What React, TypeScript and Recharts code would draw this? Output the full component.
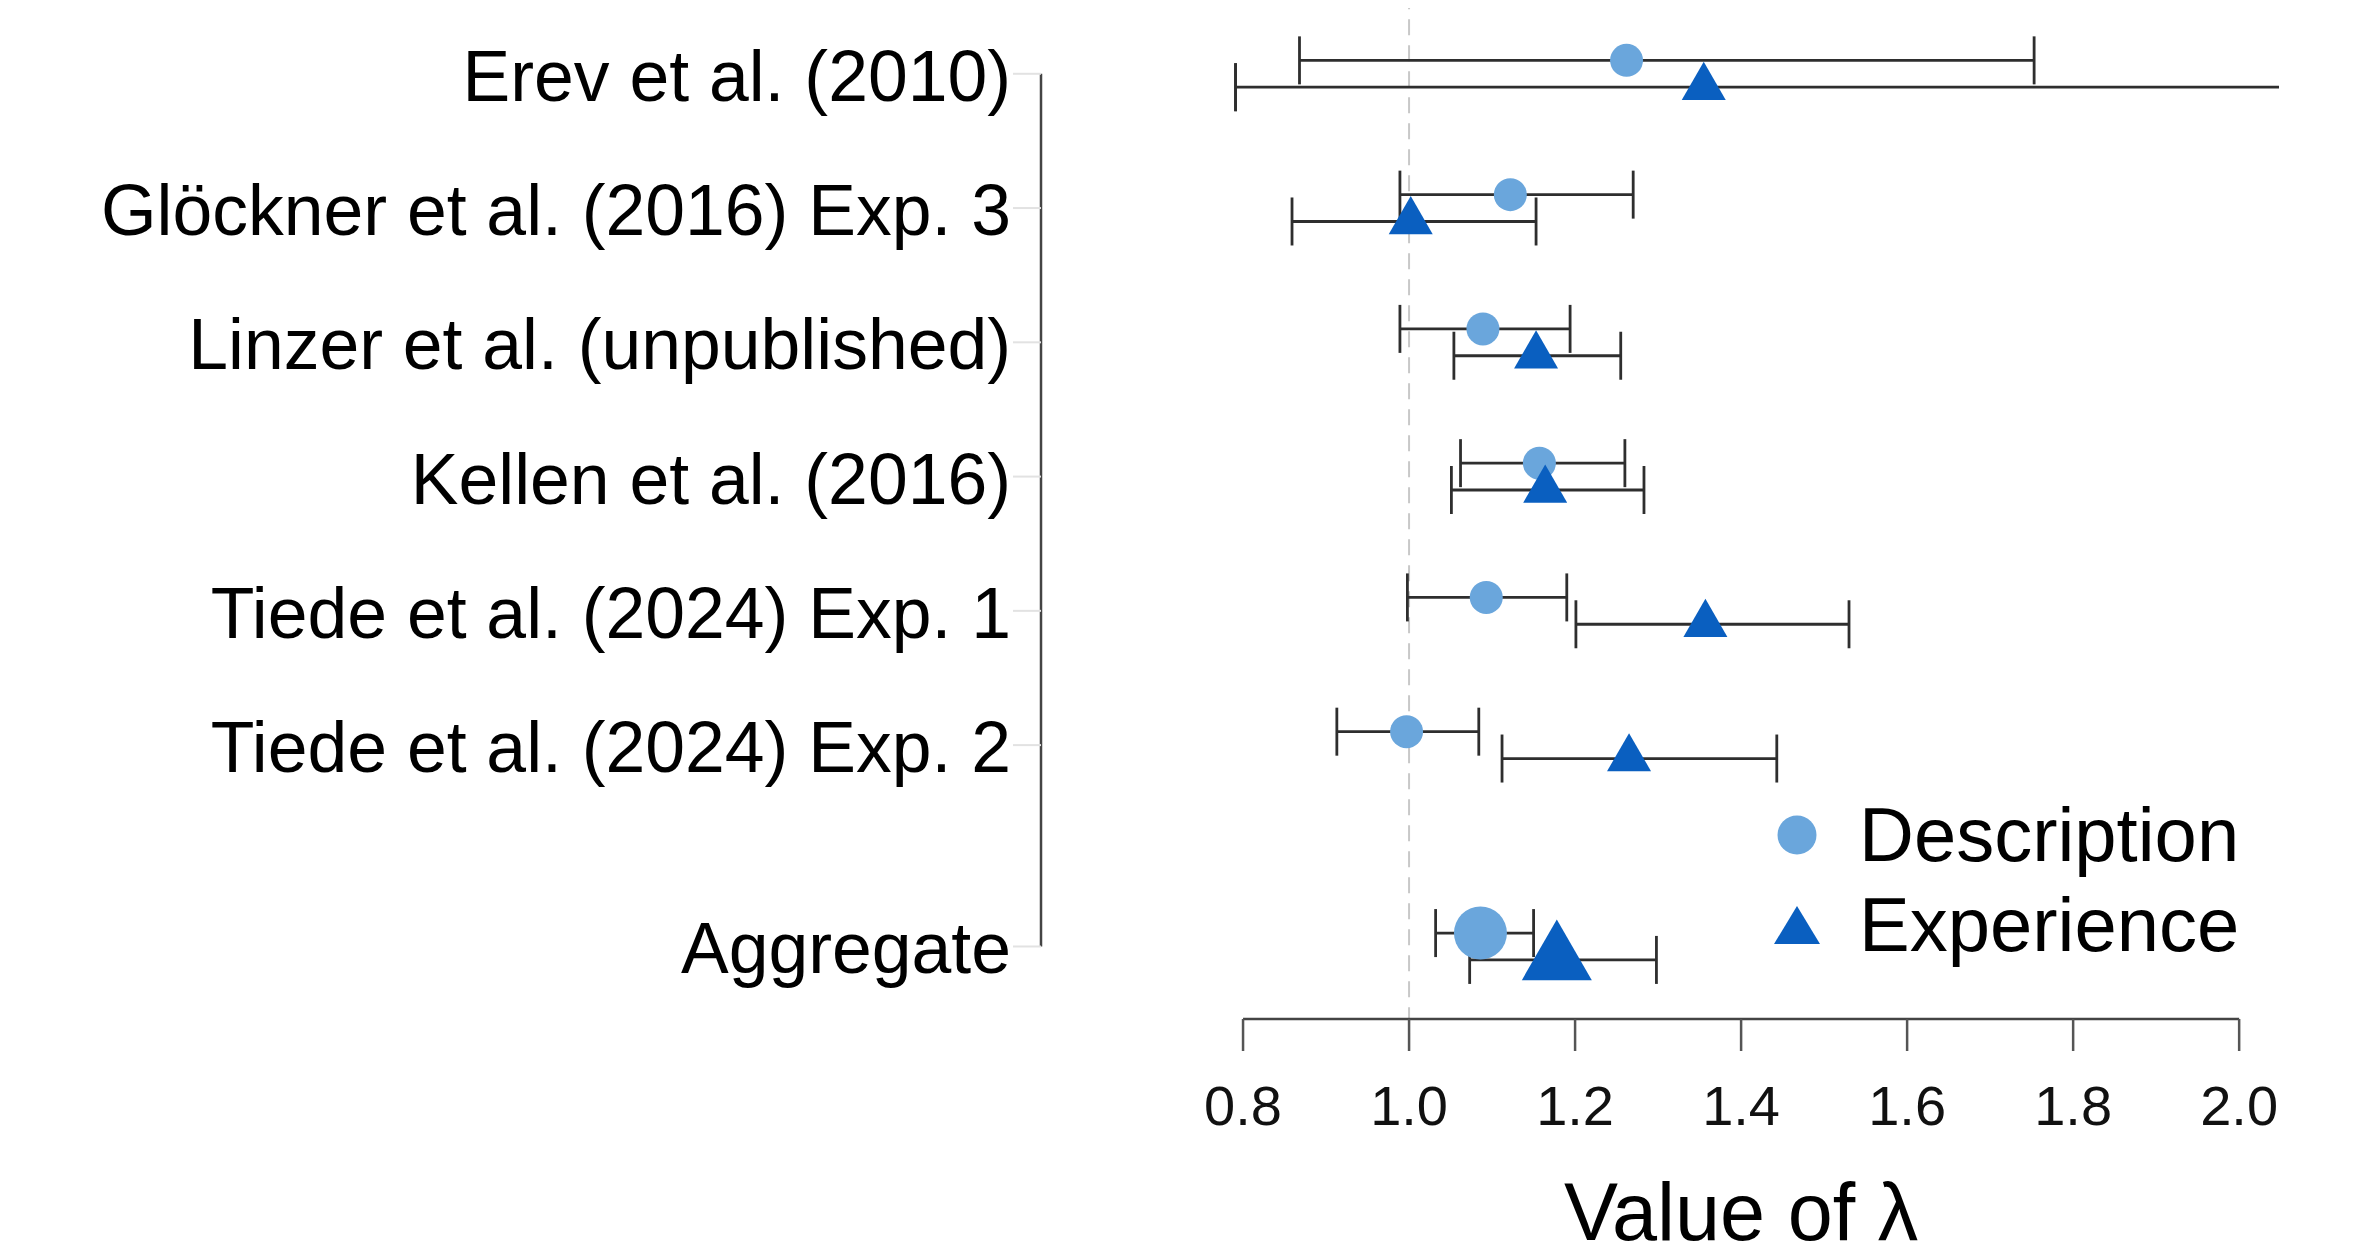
import React from 'react';
import {
  ComposedChart,
  Scatter,
  XAxis,
  YAxis,
  ErrorBar,
  ReferenceLine,
  Legend,
  Label,
} from 'recharts';

// ---------- data ----------
const studies = [
  'Erev et al. (2010)',
  'Glöckner et al. (2016) Exp. 3',
  'Linzer et al. (unpublished)',
  'Kellen et al. (2016)',
  'Tiede et al. (2024) Exp. 1',
  'Tiede et al. (2024) Exp. 2',
  'Aggregate',
];
const descMean = [1.262, 1.122, 1.089, 1.157, 1.093, 0.997, 1.086];
const descLow = [0.868, 0.989, 0.989, 1.062, 0.998, 0.913, 1.032];
const descHigh = [1.753, 1.27, 1.194, 1.26, 1.19, 1.084, 1.15];
const expMean = [1.355, 1.002, 1.153, 1.164, 1.357, 1.265, 1.178];
const expLow = [0.791, 0.859, 1.054, 1.051, 1.201, 1.112, 1.073];
const expHigh = [2.1, 1.153, 1.255, 1.283, 1.53, 1.443, 1.298];
const xTicks = [0.8, 1.0, 1.2, 1.4, 1.6, 1.8, 2.0];
const xTickLabels = ['0.8', '1.0', '1.2', '1.4', '1.6', '1.8', '2.0'];

// ---------- layout ----------
const FONT = '"Liberation Sans", Arial, Helvetica, sans-serif';
const W = 2350;
const H = 1240;
const X_DOMAIN: [number, number] = [0.5566, 2.048];
const Y_DOMAIN: [number, number] = [-0.49, 7.04];
const OFFSET = 0.1;
const LAST = studies.length - 1;
const rowY = (i: number) => (i === LAST ? 6.5 : i);
const yTicks = studies.map((_, i) => rowY(i));

const DESC_COLOR = '#6aa6dc';
const EXP_COLOR = '#0a5fc0';
const BAR_COLOR = '#2e2e2e';

const build = (mean: number[], low: number[], high: number[], off: number) =>
  studies.map((s, i) => ({
    name: s,
    x: mean[i],
    y: rowY(i) + off,
    lo: low[i],
    hi: high[i],
    err: [mean[i] - low[i], high[i] - mean[i]],
    agg: i === LAST,
  }));

const descData = build(descMean, descLow, descHigh, -OFFSET);
const expData = build(expMean, expLow, expHigh, OFFSET);
const allData = [...descData, ...expData];

// intervals that fit the plotting region get both caps
const barsInRange = allData.filter((d) => d.hi <= X_DOMAIN[1]);
// intervals running past the plotting region are cut at its edge (no right cap)
const overflow = allData.filter((d) => d.hi > X_DOMAIN[1]);
const overflowLine = overflow.map((d) => ({ x: d.lo, y: d.y, err: [0, X_DOMAIN[1] - d.lo] }));
const overflowCap = overflow.map((d) => ({ x: d.lo, y: d.y, err: [0, 0] }));

const CircleShape = (p: any) => {
  const r = p.payload && p.payload.agg ? 26.5 : 16.5;
  return <circle cx={p.cx} cy={p.cy} r={r} fill={DESC_COLOR} />;
};
const TriShape = (p: any) => {
  const s = p.payload && p.payload.agg ? 70 : 44;
  const h = (s * Math.sqrt(3)) / 2;
  const top = p.cy - (2 * h) / 3;
  const bot = p.cy + h / 3;
  return (
    <polygon
      points={`${p.cx},${top} ${p.cx + s / 2},${bot} ${p.cx - s / 2},${bot}`}
      fill={EXP_COLOR}
    />
  );
};
const NoShape = () => <g />;

const XTick = (p: any) => {
  const idx = xTicks.indexOf(p.payload.value);
  return (
    <text
      x={p.x}
      y={p.y}
      dy={72}
      textAnchor="middle"
      fontFamily={FONT}
      fontSize={56}
      fill="#111"
    >
      {idx >= 0 ? xTickLabels[idx] : String(p.payload.value)}
    </text>
  );
};

const YTick = (p: any) => {
  const idx = yTicks.indexOf(p.payload.value);
  return (
    <text
      x={p.x}
      y={p.y}
      dy={27}
      textAnchor="end"
      fontFamily={FONT}
      fontSize={71.5}
      fill="#000"
    >
      {idx >= 0 ? studies[idx] : ''}
    </text>
  );
};

const TitleLabel = (p: any) => {
  const vb = p.viewBox || { x: 0, y: 0, width: 0, height: 0 };
  const cx =
    vb.x + ((1.4 - X_DOMAIN[0]) / (X_DOMAIN[1] - X_DOMAIN[0])) * vb.width;
  return (
    <text
      x={cx}
      y={H - 8}
      textAnchor="middle"
      fontFamily={FONT}
      fontSize={81}
      fill="#000"
    >
      Value of λ
    </text>
  );
};

const LegendBox = () => (
  <div style={{ fontFamily: FONT, fontSize: 76, color: '#000', lineHeight: 1 }}>
    <div style={{ display: 'flex', alignItems: 'center', height: 90 }}>
      <svg width={50} height={50} style={{ display: 'block' }}>
        <circle cx={25} cy={25} r={19.5} fill={DESC_COLOR} />
      </svg>
      <span style={{ marginLeft: 37, whiteSpace: 'nowrap' }}>Description</span>
    </div>
    <div style={{ display: 'flex', alignItems: 'center', height: 90 }}>
      <svg width={50} height={50} style={{ display: 'block' }}>
        <polygon points="25,6 48,44 2,44" fill={EXP_COLOR} />
      </svg>
      <span style={{ marginLeft: 37, whiteSpace: 'nowrap' }}>Experience</span>
    </div>
  </div>
);

const barProps = {
  dataKey: 'err',
  direction: 'x' as const,
  stroke: BAR_COLOR,
  strokeWidth: 2.8,
  isAnimationActive: false,
};

export default function App() {
  return (
    <ComposedChart
      width={W}
      height={H}
      margin={{ top: 0, right: 79, left: 0, bottom: 0 }}
      style={{ fontFamily: FONT }}
    >
      <XAxis
        type="number"
        dataKey="x"
        domain={X_DOMAIN}
        allowDataOverflow
        ticks={xTicks}
        interval={0}
        tick={<XTick />}
        tickSize={32}
        tickLine={{ stroke: '#555', strokeWidth: 2.5 }}
        axisLine={false}
        height={229}
      >
        <Label content={<TitleLabel />} />
      </XAxis>
      <YAxis
        type="number"
        dataKey="y"
        domain={Y_DOMAIN}
        reversed
        allowDataOverflow
        ticks={yTicks}
        interval={0}
        tick={<YTick />}
        tickSize={28}
        tickLine={{ stroke: '#e2e2e2', strokeWidth: 2 }}
        axisLine={false}
        width={1033}
      />
      <ReferenceLine
        segment={[
          { x: 1, y: -0.6 },
          { x: 1, y: 7.28 },
        ]}
        stroke="#c8c8c8"
        strokeWidth={2}
        strokeDasharray="16 10"
        ifOverflow="visible"
      />
      <ReferenceLine
        segment={[
          { x: 0.8, y: Y_DOMAIN[1] },
          { x: 2.0, y: Y_DOMAIN[1] },
        ]}
        stroke="#444"
        strokeWidth={2.5}
        ifOverflow="visible"
      />
      <ReferenceLine
        segment={[
          { x: X_DOMAIN[0], y: 0 },
          { x: X_DOMAIN[0], y: 6.5 },
        ]}
        stroke="#444"
        strokeWidth={2.5}
        ifOverflow="visible"
      />
      <Scatter
        name="Description"
        data={descData}
        shape={<CircleShape />}
        isAnimationActive={false}
      />
      <Scatter
        name="Experience"
        data={expData}
        shape={<TriShape />}
        isAnimationActive={false}
      />
      <Scatter
        name="bars"
        data={barsInRange}
        shape={<NoShape />}
        legendType="none"
        isAnimationActive={false}
      >
        <ErrorBar {...barProps} width={24} />
      </Scatter>
      <Scatter
        name="barsCut"
        data={overflowLine}
        shape={<NoShape />}
        legendType="none"
        isAnimationActive={false}
      >
        <ErrorBar {...barProps} width={0} />
      </Scatter>
      <Scatter
        name="barsCutCap"
        data={overflowCap}
        shape={<NoShape />}
        legendType="none"
        isAnimationActive={false}
      >
        <ErrorBar {...barProps} width={24} />
      </Scatter>
      <Legend
        layout="vertical"
        align="center"
        verticalAlign="middle"
        wrapperStyle={{ position: 'absolute', left: 1764, top: 782, width: 'auto', height: 'auto' }}
        content={() => <LegendBox />}
      />
    </ComposedChart>
  );
}
